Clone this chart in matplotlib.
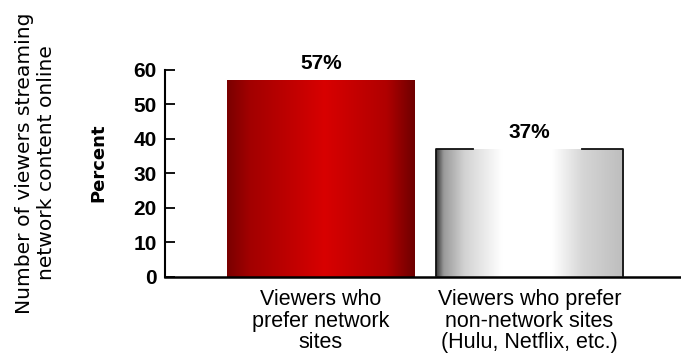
import numpy as np
import matplotlib
matplotlib.use("Agg")
import matplotlib.pyplot as plt
from matplotlib.colors import LinearSegmentedColormap

# viewer preference data
categories = ["Viewers who\nprefer network\nsites",
              "Viewers who prefer\nnon-network sites\n(Hulu, Netflix, etc.)"]
percents = [57, 37]
value_labels = ["57%", "37%"]
yticks = [0, 10, 20, 30, 40, 50, 60]

BOLD_FONT = ["Liberation Sans", "DejaVu Sans"]

fig = plt.figure(figsize=(6.81, 3.58), dpi=100)
ax = fig.add_axes([0.2423, 0.2263, 0.7577, 0.5782])

x = np.arange(len(categories))
bars = ax.bar(x, percents, width=0.90, color="none", edgecolor="none", zorder=2)

# horizontal gradients for each bar
red_cmap = LinearSegmentedColormap.from_list(
    "redbar", [(0.0, "#7a0000"), (0.12, "#a20000"), (0.52, "#d80000"),
               (0.85, "#b00000"), (1.0, "#6e0000")])
gray_cmap = LinearSegmentedColormap.from_list(
    "graybar", [(0.0, "#3a3a3a"), (0.04, "#9a9a9a"), (0.15, "#d2d2d2"),
                (0.35, "#ffffff"), (0.62, "#ffffff"), (0.78, "#d6d6d6"),
                (1.0, "#bdbdbd")])
grad = np.linspace(0, 1, 256).reshape(1, -1)
for bar, cmap in zip(bars, [red_cmap, gray_cmap]):
    x0, w, h = bar.get_x(), bar.get_width(), bar.get_height()
    im = ax.imshow(grad, cmap=cmap, aspect="auto", zorder=1,
                   extent=[x0, x0 + w, 0, h], interpolation="bilinear")
    im.set_clip_path(bar)

# outline on the grey bar
gb = bars[1]
ax.plot([gb.get_x(), gb.get_x(), gb.get_x() + 0.2 * gb.get_width()],
        [0, gb.get_height(), gb.get_height()], color="#111111", lw=1.3, zorder=3)
ax.plot([gb.get_x() + 0.78 * gb.get_width(), gb.get_x() + gb.get_width(),
         gb.get_x() + gb.get_width()],
        [gb.get_height(), gb.get_height(), 0], color="#111111", lw=1.3, zorder=3)

for xi, v, lab in zip(x, percents, value_labels):
    ax.text(xi, v + 2.2, lab, ha="center", va="bottom", fontsize=15,
            fontweight="bold", family=BOLD_FONT, clip_on=False)

ax.set_xlim(-0.748, 1.727)
ax.set_ylim(0, 60)
ax.set_yticks(yticks)
ax.set_yticklabels([str(t) for t in yticks], fontsize=15, fontweight="bold",
                   family=BOLD_FONT)
ax.tick_params(axis="y", direction="in", length=7, width=1.3, pad=6)
ax.set_xticks(x)
ax.set_xticklabels(categories, fontsize=15.5, family="Liberation Sans",
                   linespacing=1.02)
ax.tick_params(axis="x", length=0, pad=9)

for side in ["top", "right"]:
    ax.spines[side].set_visible(False)
ax.spines["left"].set_linewidth(1.5)
ax.spines["bottom"].set_linewidth(1.8)
ax.set_facecolor("white")

fig.text(0.144, 0.545, "Percent", rotation=90, ha="center", va="center",
         fontsize=13, fontweight="bold", family="DejaVu Sans")
fig.text(0.052, 0.545, "Number of viewers streaming\nnetwork content online",
         rotation=90, ha="center", va="center", fontsize=14.6,
         family="DejaVu Sans", linespacing=1.25)

fig.savefig("out.png", dpi=100, facecolor="white")
